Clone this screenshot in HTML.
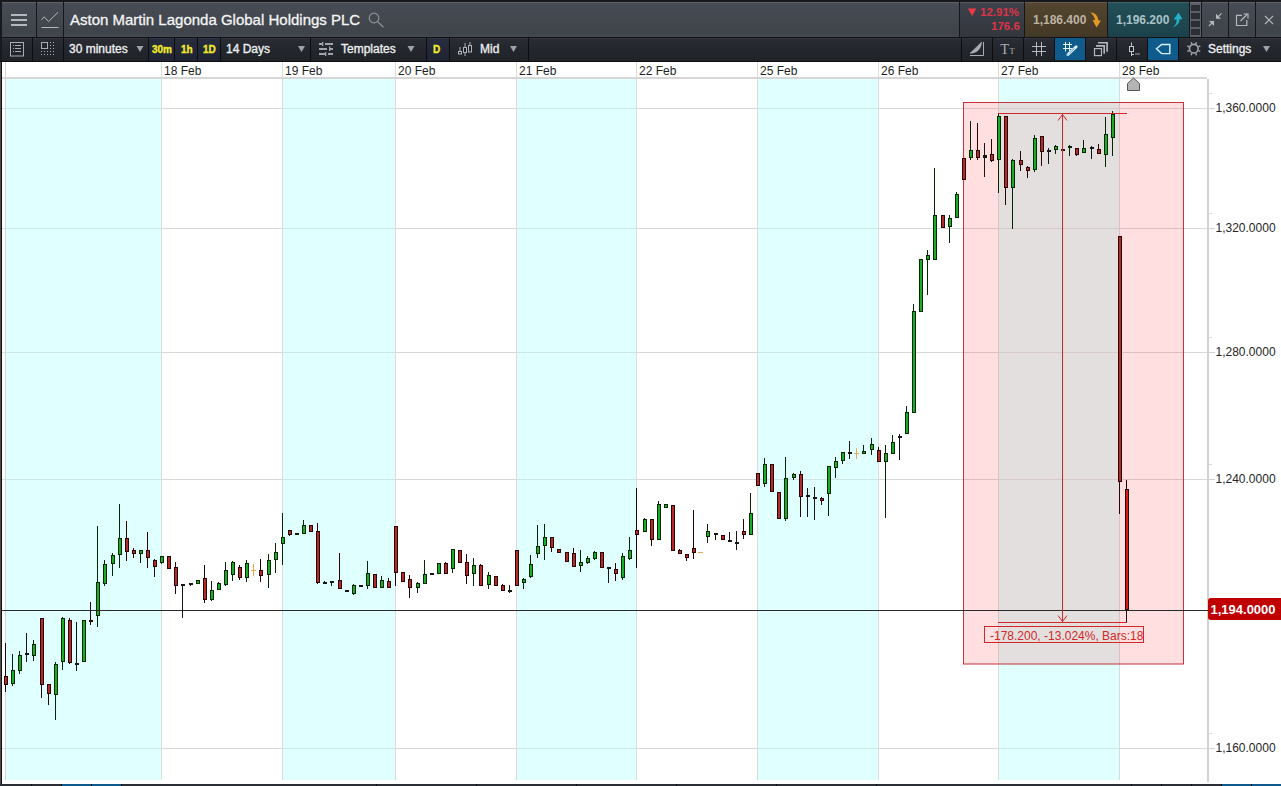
<!DOCTYPE html>
<html><head><meta charset="utf-8"><style>
*{margin:0;padding:0;box-sizing:border-box}
html,body{width:1281px;height:786px;overflow:hidden;background:#fff;font-family:"Liberation Sans",sans-serif}
.abs{position:absolute}
#top{position:absolute;left:0;top:0;width:1281px;height:62px;background:#17191c}
.r1{position:absolute;top:2px;height:35px;background:linear-gradient(#484c54,#3f434a 88%,#444850)}
.r2{position:absolute;top:37px;height:25px;background:linear-gradient(#2b2e35,#24272d 40%,#1f2227)}
.sep{position:absolute;width:1px;background:#141619}
.t{position:absolute;color:#eef0f2;white-space:nowrap;font-size:12px;line-height:14px}
.y{position:absolute;color:#f0e81e;white-space:nowrap;font-size:10px;font-weight:bold;line-height:12px}
svg text{font-family:"Liberation Sans",sans-serif}
.dl{font-size:12px;fill:#1e1e1e}
.pl{font-size:12px;fill:#262626}
.ml{font-size:12px;fill:#d02828}
.cp{font-size:13px;font-weight:bold;fill:#fff}
#bot{position:absolute;left:0;top:784px;width:1281px;height:2px;background:#2b2e34}
</style></head><body>
<svg class="abs" style="left:0;top:0" width="1281" height="786" viewBox="0 0 1281 786">
<rect x="0" y="62" width="1" height="724" fill="#4e4c4c"/><rect x="1" y="62" width="1" height="724" fill="#101010"/>
<rect x="6" y="79" width="155" height="701" fill="#e0ffff"/>
<rect x="282" y="79" width="113" height="701" fill="#e0ffff"/>
<rect x="516" y="79" width="120" height="701" fill="#e0ffff"/>
<rect x="757" y="79" width="121" height="701" fill="#e0ffff"/>
<rect x="998" y="79" width="121" height="701" fill="#e0ffff"/>
<rect x="2" y="108" width="159" height="1" fill="#cfe6e6"/>
<rect x="161" y="108" width="121" height="1" fill="#d8d8d8"/>
<rect x="282" y="108" width="113" height="1" fill="#cfe6e6"/>
<rect x="395" y="108" width="121" height="1" fill="#d8d8d8"/>
<rect x="516" y="108" width="120" height="1" fill="#cfe6e6"/>
<rect x="636" y="108" width="121" height="1" fill="#d8d8d8"/>
<rect x="757" y="108" width="121" height="1" fill="#cfe6e6"/>
<rect x="878" y="108" width="120" height="1" fill="#d8d8d8"/>
<rect x="998" y="108" width="121" height="1" fill="#cfe6e6"/>
<rect x="1119" y="108" width="88" height="1" fill="#d8d8d8"/>
<rect x="1207" y="108" width="8" height="1" fill="#d0d0d0"/>
<rect x="2" y="228" width="159" height="1" fill="#cfe6e6"/>
<rect x="161" y="228" width="121" height="1" fill="#d8d8d8"/>
<rect x="282" y="228" width="113" height="1" fill="#cfe6e6"/>
<rect x="395" y="228" width="121" height="1" fill="#d8d8d8"/>
<rect x="516" y="228" width="120" height="1" fill="#cfe6e6"/>
<rect x="636" y="228" width="121" height="1" fill="#d8d8d8"/>
<rect x="757" y="228" width="121" height="1" fill="#cfe6e6"/>
<rect x="878" y="228" width="120" height="1" fill="#d8d8d8"/>
<rect x="998" y="228" width="121" height="1" fill="#cfe6e6"/>
<rect x="1119" y="228" width="88" height="1" fill="#d8d8d8"/>
<rect x="1207" y="228" width="8" height="1" fill="#d0d0d0"/>
<rect x="2" y="352" width="159" height="1" fill="#cfe6e6"/>
<rect x="161" y="352" width="121" height="1" fill="#d8d8d8"/>
<rect x="282" y="352" width="113" height="1" fill="#cfe6e6"/>
<rect x="395" y="352" width="121" height="1" fill="#d8d8d8"/>
<rect x="516" y="352" width="120" height="1" fill="#cfe6e6"/>
<rect x="636" y="352" width="121" height="1" fill="#d8d8d8"/>
<rect x="757" y="352" width="121" height="1" fill="#cfe6e6"/>
<rect x="878" y="352" width="120" height="1" fill="#d8d8d8"/>
<rect x="998" y="352" width="121" height="1" fill="#cfe6e6"/>
<rect x="1119" y="352" width="88" height="1" fill="#d8d8d8"/>
<rect x="1207" y="352" width="8" height="1" fill="#d0d0d0"/>
<rect x="2" y="479" width="159" height="1" fill="#cfe6e6"/>
<rect x="161" y="479" width="121" height="1" fill="#d8d8d8"/>
<rect x="282" y="479" width="113" height="1" fill="#cfe6e6"/>
<rect x="395" y="479" width="121" height="1" fill="#d8d8d8"/>
<rect x="516" y="479" width="120" height="1" fill="#cfe6e6"/>
<rect x="636" y="479" width="121" height="1" fill="#d8d8d8"/>
<rect x="757" y="479" width="121" height="1" fill="#cfe6e6"/>
<rect x="878" y="479" width="120" height="1" fill="#d8d8d8"/>
<rect x="998" y="479" width="121" height="1" fill="#cfe6e6"/>
<rect x="1119" y="479" width="88" height="1" fill="#d8d8d8"/>
<rect x="1207" y="479" width="8" height="1" fill="#d0d0d0"/>
<rect x="2" y="748" width="159" height="1" fill="#cfe6e6"/>
<rect x="161" y="748" width="121" height="1" fill="#d8d8d8"/>
<rect x="282" y="748" width="113" height="1" fill="#cfe6e6"/>
<rect x="395" y="748" width="121" height="1" fill="#d8d8d8"/>
<rect x="516" y="748" width="120" height="1" fill="#cfe6e6"/>
<rect x="636" y="748" width="121" height="1" fill="#d8d8d8"/>
<rect x="757" y="748" width="121" height="1" fill="#cfe6e6"/>
<rect x="878" y="748" width="120" height="1" fill="#d8d8d8"/>
<rect x="998" y="748" width="121" height="1" fill="#cfe6e6"/>
<rect x="1119" y="748" width="88" height="1" fill="#d8d8d8"/>
<rect x="1207" y="748" width="8" height="1" fill="#d0d0d0"/>
<rect x="161" y="62" width="1" height="718" fill="#d6dedd"/>
<rect x="282" y="62" width="1" height="718" fill="#d6dedd"/>
<rect x="395" y="62" width="1" height="718" fill="#d6dedd"/>
<rect x="516" y="62" width="1" height="718" fill="#d6dedd"/>
<rect x="636" y="62" width="1" height="718" fill="#d6dedd"/>
<rect x="757" y="62" width="1" height="718" fill="#d6dedd"/>
<rect x="878" y="62" width="1" height="718" fill="#d6dedd"/>
<rect x="998" y="62" width="1" height="718" fill="#d6dedd"/>
<rect x="1119" y="62" width="1" height="718" fill="#d6dedd"/>
<rect x="5" y="62" width="1" height="718" fill="#d0d8d8"/>
<rect x="2" y="77" width="1205" height="2" fill="#d6d6d6"/>
<rect x="1207" y="79" width="2" height="703" fill="#d2d2d2"/>
<rect x="1209" y="93" width="3" height="1" fill="#d8d8d8"/>
<rect x="1209" y="213" width="3" height="1" fill="#d8d8d8"/>
<rect x="1209" y="337" width="3" height="1" fill="#d8d8d8"/>
<rect x="1209" y="464" width="3" height="1" fill="#d8d8d8"/>
<rect x="1209" y="733" width="3" height="1" fill="#d8d8d8"/>
<text x="164" y="75" class="dl">18 Feb</text>
<text x="285" y="75" class="dl">19 Feb</text>
<text x="398" y="75" class="dl">20 Feb</text>
<text x="519" y="75" class="dl">21 Feb</text>
<text x="639" y="75" class="dl">22 Feb</text>
<text x="760" y="75" class="dl">25 Feb</text>
<text x="881" y="75" class="dl">26 Feb</text>
<text x="1001" y="75" class="dl">27 Feb</text>
<text x="1122" y="75" class="dl">28 Feb</text>
<text x="1215.5" y="112.2" class="pl">1,360.0000</text>
<text x="1215.5" y="232.2" class="pl">1,320.0000</text>
<text x="1215.5" y="356.2" class="pl">1,280.0000</text>
<text x="1215.5" y="483.2" class="pl">1,240.0000</text>
<text x="1215.5" y="752.2" class="pl">1,160.0000</text>
<path d="M1127.5 90.5 V83.5 L1133.5 78 L1139.5 83.5 V90.5 Z" fill="#b4b4b4" stroke="#555" stroke-width="1"/>
<rect x="963.5" y="102.5" width="220" height="561.5" fill="rgba(255,0,0,0.125)" stroke="#c8323a" stroke-width="1"/>
<rect x="5" y="643" width="1" height="49" fill="#2a0404"/>
<rect x="4" y="676" width="4" height="9" fill="#2a0404"/>
<rect x="5" y="677" width="2" height="7" fill="#b22a2a"/>
<rect x="12" y="654" width="1" height="32" fill="#032803"/>
<rect x="11" y="670" width="4" height="14" fill="#032803"/>
<rect x="12" y="671" width="2" height="12" fill="#1aac24"/>
<rect x="19" y="651" width="1" height="23" fill="#032803"/>
<rect x="18" y="655" width="4" height="16" fill="#032803"/>
<rect x="19" y="656" width="2" height="14" fill="#1aac24"/>
<rect x="26" y="633" width="1" height="29" fill="#161616"/>
<rect x="25" y="653" width="4" height="2" fill="#161616"/>
<rect x="33" y="640" width="1" height="21" fill="#032803"/>
<rect x="32" y="644" width="4" height="12" fill="#032803"/>
<rect x="33" y="645" width="2" height="10" fill="#1aac24"/>
<rect x="41" y="618" width="1" height="80" fill="#2a0404"/>
<rect x="40" y="618" width="4" height="67" fill="#2a0404"/>
<rect x="41" y="619" width="2" height="65" fill="#b22a2a"/>
<rect x="48" y="684" width="1" height="21" fill="#2a0404"/>
<rect x="47" y="684" width="4" height="10" fill="#2a0404"/>
<rect x="48" y="685" width="2" height="8" fill="#b22a2a"/>
<rect x="55" y="662" width="1" height="58" fill="#032803"/>
<rect x="54" y="664" width="4" height="31" fill="#032803"/>
<rect x="55" y="665" width="2" height="29" fill="#1aac24"/>
<rect x="62" y="617" width="1" height="53" fill="#032803"/>
<rect x="61" y="618" width="4" height="44" fill="#032803"/>
<rect x="62" y="619" width="2" height="42" fill="#1aac24"/>
<rect x="69" y="618" width="1" height="46" fill="#2a0404"/>
<rect x="68" y="620" width="4" height="43" fill="#2a0404"/>
<rect x="69" y="621" width="2" height="41" fill="#b22a2a"/>
<rect x="76" y="622" width="1" height="49" fill="#161616"/>
<rect x="75" y="663" width="4" height="2" fill="#161616"/>
<rect x="83" y="620" width="1" height="42" fill="#032803"/>
<rect x="82" y="620" width="4" height="42" fill="#032803"/>
<rect x="83" y="621" width="2" height="40" fill="#1aac24"/>
<rect x="90" y="602" width="1" height="23" fill="#2a0404"/>
<rect x="89" y="620" width="4" height="2" fill="#2a0404"/>
<rect x="97" y="526" width="1" height="101" fill="#032803"/>
<rect x="96" y="582" width="4" height="34" fill="#032803"/>
<rect x="97" y="583" width="2" height="32" fill="#1aac24"/>
<rect x="104" y="560" width="1" height="26" fill="#032803"/>
<rect x="103" y="564" width="4" height="20" fill="#032803"/>
<rect x="104" y="565" width="2" height="18" fill="#1aac24"/>
<rect x="112" y="553" width="1" height="23" fill="#032803"/>
<rect x="111" y="555" width="4" height="9" fill="#032803"/>
<rect x="112" y="556" width="2" height="7" fill="#1aac24"/>
<rect x="119" y="504" width="1" height="64" fill="#032803"/>
<rect x="118" y="538" width="4" height="17" fill="#032803"/>
<rect x="119" y="539" width="2" height="15" fill="#1aac24"/>
<rect x="126" y="521" width="1" height="40" fill="#2a0404"/>
<rect x="125" y="538" width="4" height="14" fill="#2a0404"/>
<rect x="126" y="539" width="2" height="12" fill="#b22a2a"/>
<rect x="133" y="548" width="1" height="10" fill="#2a0404"/>
<rect x="132" y="550" width="4" height="4" fill="#2a0404"/>
<rect x="133" y="551" width="2" height="2" fill="#b22a2a"/>
<rect x="140" y="550" width="1" height="13" fill="#032803"/>
<rect x="139" y="550" width="4" height="4" fill="#032803"/>
<rect x="140" y="551" width="2" height="2" fill="#1aac24"/>
<rect x="147" y="532" width="1" height="36" fill="#2a0404"/>
<rect x="146" y="550" width="4" height="8" fill="#2a0404"/>
<rect x="147" y="551" width="2" height="6" fill="#b22a2a"/>
<rect x="154" y="559" width="1" height="18" fill="#2a0404"/>
<rect x="153" y="560" width="4" height="7" fill="#2a0404"/>
<rect x="154" y="561" width="2" height="5" fill="#b22a2a"/>
<rect x="161" y="556" width="1" height="8" fill="#032803"/>
<rect x="160" y="556" width="4" height="7" fill="#032803"/>
<rect x="161" y="557" width="2" height="5" fill="#1aac24"/>
<rect x="168" y="556" width="1" height="13" fill="#2a0404"/>
<rect x="167" y="556" width="4" height="13" fill="#2a0404"/>
<rect x="168" y="557" width="2" height="11" fill="#b22a2a"/>
<rect x="175" y="562" width="1" height="32" fill="#2a0404"/>
<rect x="174" y="567" width="4" height="19" fill="#2a0404"/>
<rect x="175" y="568" width="2" height="17" fill="#b22a2a"/>
<rect x="182" y="584" width="1" height="34" fill="#161616"/>
<rect x="181" y="584" width="4" height="2" fill="#161616"/>
<rect x="190" y="583" width="1" height="3" fill="#161616"/>
<rect x="189" y="583" width="4" height="2" fill="#161616"/>
<rect x="197" y="580" width="1" height="4" fill="#032803"/>
<rect x="196" y="580" width="4" height="4" fill="#032803"/>
<rect x="197" y="581" width="2" height="2" fill="#1aac24"/>
<rect x="204" y="565" width="1" height="38" fill="#2a0404"/>
<rect x="203" y="578" width="4" height="22" fill="#2a0404"/>
<rect x="204" y="579" width="2" height="20" fill="#b22a2a"/>
<rect x="211" y="581" width="1" height="20" fill="#032803"/>
<rect x="210" y="590" width="4" height="10" fill="#032803"/>
<rect x="211" y="591" width="2" height="8" fill="#1aac24"/>
<rect x="218" y="582" width="1" height="8" fill="#032803"/>
<rect x="217" y="583" width="4" height="7" fill="#032803"/>
<rect x="218" y="584" width="2" height="5" fill="#1aac24"/>
<rect x="225" y="562" width="1" height="24" fill="#032803"/>
<rect x="224" y="570" width="4" height="15" fill="#032803"/>
<rect x="225" y="571" width="2" height="13" fill="#1aac24"/>
<rect x="232" y="561" width="1" height="20" fill="#032803"/>
<rect x="231" y="562" width="4" height="13" fill="#032803"/>
<rect x="232" y="563" width="2" height="11" fill="#1aac24"/>
<rect x="239" y="565" width="1" height="15" fill="#2a0404"/>
<rect x="238" y="567" width="4" height="11" fill="#2a0404"/>
<rect x="239" y="568" width="2" height="9" fill="#b22a2a"/>
<rect x="246" y="560" width="1" height="22" fill="#032803"/>
<rect x="245" y="563" width="4" height="15" fill="#032803"/>
<rect x="246" y="564" width="2" height="13" fill="#1aac24"/>
<rect x="253" y="564" width="1" height="12" fill="#e8a850"/>
<rect x="251" y="570" width="5" height="1" fill="#e8a850"/>
<rect x="260" y="559" width="1" height="23" fill="#2a0404"/>
<rect x="259" y="570" width="4" height="6" fill="#2a0404"/>
<rect x="260" y="571" width="2" height="4" fill="#b22a2a"/>
<rect x="268" y="554" width="1" height="34" fill="#032803"/>
<rect x="267" y="560" width="4" height="15" fill="#032803"/>
<rect x="268" y="561" width="2" height="13" fill="#1aac24"/>
<rect x="275" y="543" width="1" height="30" fill="#032803"/>
<rect x="274" y="552" width="4" height="8" fill="#032803"/>
<rect x="275" y="553" width="2" height="6" fill="#1aac24"/>
<rect x="282" y="513" width="1" height="52" fill="#032803"/>
<rect x="281" y="537" width="4" height="7" fill="#032803"/>
<rect x="282" y="538" width="2" height="5" fill="#1aac24"/>
<rect x="289" y="530" width="1" height="6" fill="#2a0404"/>
<rect x="288" y="530" width="4" height="5" fill="#2a0404"/>
<rect x="289" y="531" width="2" height="3" fill="#b22a2a"/>
<rect x="296" y="533" width="1" height="1" fill="#161616"/>
<rect x="295" y="533" width="4" height="2" fill="#161616"/>
<rect x="303" y="520" width="1" height="14" fill="#032803"/>
<rect x="302" y="525" width="4" height="9" fill="#032803"/>
<rect x="303" y="526" width="2" height="7" fill="#1aac24"/>
<rect x="310" y="525" width="1" height="7" fill="#2a0404"/>
<rect x="309" y="525" width="4" height="7" fill="#2a0404"/>
<rect x="310" y="526" width="2" height="5" fill="#b22a2a"/>
<rect x="317" y="523" width="1" height="61" fill="#2a0404"/>
<rect x="316" y="531" width="4" height="52" fill="#2a0404"/>
<rect x="317" y="532" width="2" height="50" fill="#b22a2a"/>
<rect x="324" y="581" width="1" height="2" fill="#161616"/>
<rect x="323" y="582" width="4" height="2" fill="#161616"/>
<rect x="331" y="581" width="1" height="5" fill="#161616"/>
<rect x="330" y="581" width="4" height="2" fill="#161616"/>
<rect x="339" y="553" width="1" height="36" fill="#2a0404"/>
<rect x="338" y="580" width="4" height="9" fill="#2a0404"/>
<rect x="339" y="581" width="2" height="7" fill="#b22a2a"/>
<rect x="346" y="590" width="1" height="1" fill="#161616"/>
<rect x="345" y="590" width="4" height="2" fill="#161616"/>
<rect x="353" y="584" width="1" height="11" fill="#032803"/>
<rect x="352" y="585" width="4" height="9" fill="#032803"/>
<rect x="353" y="586" width="2" height="7" fill="#1aac24"/>
<rect x="360" y="585" width="1" height="2" fill="#161616"/>
<rect x="359" y="585" width="4" height="2" fill="#161616"/>
<rect x="367" y="561" width="1" height="28" fill="#032803"/>
<rect x="366" y="573" width="4" height="13" fill="#032803"/>
<rect x="367" y="574" width="2" height="11" fill="#1aac24"/>
<rect x="374" y="574" width="1" height="14" fill="#2a0404"/>
<rect x="373" y="574" width="4" height="14" fill="#2a0404"/>
<rect x="374" y="575" width="2" height="12" fill="#b22a2a"/>
<rect x="381" y="576" width="1" height="12" fill="#032803"/>
<rect x="380" y="580" width="4" height="8" fill="#032803"/>
<rect x="381" y="581" width="2" height="6" fill="#1aac24"/>
<rect x="388" y="578" width="1" height="10" fill="#2a0404"/>
<rect x="387" y="581" width="4" height="7" fill="#2a0404"/>
<rect x="388" y="582" width="2" height="5" fill="#b22a2a"/>
<rect x="395" y="526" width="1" height="60" fill="#2a0404"/>
<rect x="394" y="526" width="4" height="47" fill="#2a0404"/>
<rect x="395" y="527" width="2" height="45" fill="#b22a2a"/>
<rect x="402" y="572" width="1" height="10" fill="#2a0404"/>
<rect x="401" y="572" width="4" height="10" fill="#2a0404"/>
<rect x="402" y="573" width="2" height="8" fill="#b22a2a"/>
<rect x="409" y="575" width="1" height="23" fill="#2a0404"/>
<rect x="408" y="579" width="4" height="9" fill="#2a0404"/>
<rect x="409" y="580" width="2" height="7" fill="#b22a2a"/>
<rect x="417" y="582" width="1" height="11" fill="#032803"/>
<rect x="416" y="583" width="4" height="5" fill="#032803"/>
<rect x="417" y="584" width="2" height="3" fill="#1aac24"/>
<rect x="424" y="560" width="1" height="24" fill="#032803"/>
<rect x="423" y="574" width="4" height="10" fill="#032803"/>
<rect x="424" y="575" width="2" height="8" fill="#1aac24"/>
<rect x="431" y="573" width="1" height="2" fill="#161616"/>
<rect x="430" y="573" width="4" height="2" fill="#161616"/>
<rect x="438" y="563" width="1" height="11" fill="#032803"/>
<rect x="437" y="563" width="4" height="11" fill="#032803"/>
<rect x="438" y="564" width="2" height="9" fill="#1aac24"/>
<rect x="445" y="562" width="1" height="12" fill="#2a0404"/>
<rect x="444" y="563" width="4" height="11" fill="#2a0404"/>
<rect x="445" y="564" width="2" height="9" fill="#b22a2a"/>
<rect x="452" y="549" width="1" height="24" fill="#032803"/>
<rect x="451" y="549" width="4" height="20" fill="#032803"/>
<rect x="452" y="550" width="2" height="18" fill="#1aac24"/>
<rect x="459" y="550" width="1" height="13" fill="#2a0404"/>
<rect x="458" y="550" width="4" height="13" fill="#2a0404"/>
<rect x="459" y="551" width="2" height="11" fill="#b22a2a"/>
<rect x="466" y="554" width="1" height="30" fill="#2a0404"/>
<rect x="465" y="562" width="4" height="14" fill="#2a0404"/>
<rect x="466" y="563" width="2" height="12" fill="#b22a2a"/>
<rect x="473" y="558" width="1" height="28" fill="#032803"/>
<rect x="472" y="565" width="4" height="9" fill="#032803"/>
<rect x="473" y="566" width="2" height="7" fill="#1aac24"/>
<rect x="480" y="564" width="1" height="22" fill="#2a0404"/>
<rect x="479" y="565" width="4" height="21" fill="#2a0404"/>
<rect x="480" y="566" width="2" height="19" fill="#b22a2a"/>
<rect x="488" y="572" width="1" height="17" fill="#032803"/>
<rect x="487" y="575" width="4" height="10" fill="#032803"/>
<rect x="488" y="576" width="2" height="8" fill="#1aac24"/>
<rect x="495" y="576" width="1" height="10" fill="#2a0404"/>
<rect x="494" y="576" width="4" height="10" fill="#2a0404"/>
<rect x="495" y="577" width="2" height="8" fill="#b22a2a"/>
<rect x="502" y="584" width="1" height="7" fill="#2a0404"/>
<rect x="501" y="585" width="4" height="6" fill="#2a0404"/>
<rect x="502" y="586" width="2" height="4" fill="#b22a2a"/>
<rect x="509" y="585" width="1" height="8" fill="#161616"/>
<rect x="508" y="590" width="4" height="2" fill="#161616"/>
<rect x="516" y="550" width="1" height="36" fill="#2a0404"/>
<rect x="515" y="550" width="4" height="36" fill="#2a0404"/>
<rect x="516" y="551" width="2" height="34" fill="#b22a2a"/>
<rect x="523" y="578" width="1" height="11" fill="#032803"/>
<rect x="522" y="579" width="4" height="4" fill="#032803"/>
<rect x="523" y="580" width="2" height="2" fill="#1aac24"/>
<rect x="530" y="555" width="1" height="23" fill="#032803"/>
<rect x="529" y="564" width="4" height="13" fill="#032803"/>
<rect x="530" y="565" width="2" height="11" fill="#1aac24"/>
<rect x="537" y="525" width="1" height="33" fill="#032803"/>
<rect x="536" y="546" width="4" height="8" fill="#032803"/>
<rect x="537" y="547" width="2" height="6" fill="#1aac24"/>
<rect x="544" y="524" width="1" height="36" fill="#032803"/>
<rect x="543" y="537" width="4" height="9" fill="#032803"/>
<rect x="544" y="538" width="2" height="7" fill="#1aac24"/>
<rect x="551" y="537" width="1" height="15" fill="#2a0404"/>
<rect x="550" y="537" width="4" height="11" fill="#2a0404"/>
<rect x="551" y="538" width="2" height="9" fill="#b22a2a"/>
<rect x="558" y="549" width="1" height="4" fill="#2a0404"/>
<rect x="557" y="549" width="4" height="4" fill="#2a0404"/>
<rect x="558" y="550" width="2" height="2" fill="#b22a2a"/>
<rect x="566" y="552" width="1" height="10" fill="#2a0404"/>
<rect x="565" y="552" width="4" height="10" fill="#2a0404"/>
<rect x="566" y="553" width="2" height="8" fill="#b22a2a"/>
<rect x="573" y="548" width="1" height="19" fill="#2a0404"/>
<rect x="572" y="553" width="4" height="14" fill="#2a0404"/>
<rect x="573" y="554" width="2" height="12" fill="#b22a2a"/>
<rect x="580" y="550" width="1" height="22" fill="#032803"/>
<rect x="579" y="562" width="4" height="4" fill="#032803"/>
<rect x="580" y="563" width="2" height="2" fill="#1aac24"/>
<rect x="587" y="556" width="1" height="8" fill="#032803"/>
<rect x="586" y="558" width="4" height="5" fill="#032803"/>
<rect x="587" y="559" width="2" height="3" fill="#1aac24"/>
<rect x="594" y="551" width="1" height="9" fill="#032803"/>
<rect x="593" y="552" width="4" height="7" fill="#032803"/>
<rect x="594" y="553" width="2" height="5" fill="#1aac24"/>
<rect x="601" y="552" width="1" height="16" fill="#2a0404"/>
<rect x="600" y="552" width="4" height="16" fill="#2a0404"/>
<rect x="601" y="553" width="2" height="14" fill="#b22a2a"/>
<rect x="608" y="567" width="1" height="16" fill="#161616"/>
<rect x="607" y="567" width="4" height="2" fill="#161616"/>
<rect x="615" y="563" width="1" height="18" fill="#2a0404"/>
<rect x="614" y="569" width="4" height="5" fill="#2a0404"/>
<rect x="615" y="570" width="2" height="3" fill="#b22a2a"/>
<rect x="622" y="553" width="1" height="27" fill="#032803"/>
<rect x="621" y="556" width="4" height="22" fill="#032803"/>
<rect x="622" y="557" width="2" height="20" fill="#1aac24"/>
<rect x="629" y="537" width="1" height="23" fill="#032803"/>
<rect x="628" y="550" width="4" height="9" fill="#032803"/>
<rect x="629" y="551" width="2" height="7" fill="#1aac24"/>
<rect x="636" y="488" width="1" height="80" fill="#2a0404"/>
<rect x="635" y="530" width="4" height="5" fill="#2a0404"/>
<rect x="636" y="531" width="2" height="3" fill="#b22a2a"/>
<rect x="644" y="518" width="1" height="14" fill="#032803"/>
<rect x="643" y="519" width="4" height="13" fill="#032803"/>
<rect x="644" y="520" width="2" height="11" fill="#1aac24"/>
<rect x="651" y="519" width="1" height="27" fill="#2a0404"/>
<rect x="650" y="519" width="4" height="21" fill="#2a0404"/>
<rect x="651" y="520" width="2" height="19" fill="#b22a2a"/>
<rect x="658" y="501" width="1" height="39" fill="#032803"/>
<rect x="657" y="504" width="4" height="36" fill="#032803"/>
<rect x="658" y="505" width="2" height="34" fill="#1aac24"/>
<rect x="665" y="504" width="1" height="4" fill="#032803"/>
<rect x="664" y="504" width="4" height="4" fill="#032803"/>
<rect x="665" y="505" width="2" height="2" fill="#1aac24"/>
<rect x="672" y="505" width="1" height="46" fill="#2a0404"/>
<rect x="671" y="505" width="4" height="46" fill="#2a0404"/>
<rect x="672" y="506" width="2" height="44" fill="#b22a2a"/>
<rect x="679" y="549" width="1" height="5" fill="#2a0404"/>
<rect x="678" y="550" width="4" height="4" fill="#2a0404"/>
<rect x="679" y="551" width="2" height="2" fill="#b22a2a"/>
<rect x="686" y="554" width="1" height="7" fill="#2a0404"/>
<rect x="685" y="554" width="4" height="4" fill="#2a0404"/>
<rect x="686" y="555" width="2" height="2" fill="#b22a2a"/>
<rect x="693" y="510" width="1" height="49" fill="#2a0404"/>
<rect x="692" y="548" width="4" height="5" fill="#2a0404"/>
<rect x="693" y="549" width="2" height="3" fill="#b22a2a"/>
<rect x="700" y="552" width="1" height="1" fill="#e8a850"/>
<rect x="698" y="552" width="5" height="1" fill="#e8a850"/>
<rect x="707" y="524" width="1" height="19" fill="#032803"/>
<rect x="706" y="531" width="4" height="6" fill="#032803"/>
<rect x="707" y="532" width="2" height="4" fill="#1aac24"/>
<rect x="715" y="533" width="1" height="7" fill="#161616"/>
<rect x="714" y="533" width="4" height="2" fill="#161616"/>
<rect x="722" y="535" width="1" height="5" fill="#2a0404"/>
<rect x="721" y="535" width="4" height="5" fill="#2a0404"/>
<rect x="722" y="536" width="2" height="3" fill="#b22a2a"/>
<rect x="729" y="532" width="1" height="10" fill="#161616"/>
<rect x="728" y="540" width="4" height="2" fill="#161616"/>
<rect x="736" y="531" width="1" height="19" fill="#161616"/>
<rect x="735" y="542" width="4" height="2" fill="#161616"/>
<rect x="743" y="519" width="1" height="20" fill="#2a0404"/>
<rect x="742" y="531" width="4" height="4" fill="#2a0404"/>
<rect x="743" y="532" width="2" height="2" fill="#b22a2a"/>
<rect x="750" y="493" width="1" height="42" fill="#032803"/>
<rect x="749" y="513" width="4" height="22" fill="#032803"/>
<rect x="750" y="514" width="2" height="20" fill="#1aac24"/>
<rect x="757" y="473" width="1" height="13" fill="#2a0404"/>
<rect x="756" y="473" width="4" height="13" fill="#2a0404"/>
<rect x="757" y="474" width="2" height="11" fill="#b22a2a"/>
<rect x="764" y="458" width="1" height="29" fill="#032803"/>
<rect x="763" y="464" width="4" height="20" fill="#032803"/>
<rect x="764" y="465" width="2" height="18" fill="#1aac24"/>
<rect x="771" y="464" width="1" height="28" fill="#2a0404"/>
<rect x="770" y="464" width="4" height="28" fill="#2a0404"/>
<rect x="771" y="465" width="2" height="26" fill="#b22a2a"/>
<rect x="778" y="492" width="1" height="27" fill="#2a0404"/>
<rect x="777" y="492" width="4" height="27" fill="#2a0404"/>
<rect x="778" y="493" width="2" height="25" fill="#b22a2a"/>
<rect x="785" y="457" width="1" height="64" fill="#032803"/>
<rect x="784" y="478" width="4" height="41" fill="#032803"/>
<rect x="785" y="479" width="2" height="39" fill="#1aac24"/>
<rect x="793" y="473" width="1" height="7" fill="#032803"/>
<rect x="792" y="474" width="4" height="4" fill="#032803"/>
<rect x="793" y="475" width="2" height="2" fill="#1aac24"/>
<rect x="800" y="471" width="1" height="46" fill="#2a0404"/>
<rect x="799" y="474" width="4" height="23" fill="#2a0404"/>
<rect x="800" y="475" width="2" height="21" fill="#b22a2a"/>
<rect x="807" y="488" width="1" height="29" fill="#161616"/>
<rect x="806" y="495" width="4" height="2" fill="#161616"/>
<rect x="814" y="487" width="1" height="33" fill="#161616"/>
<rect x="813" y="497" width="4" height="2" fill="#161616"/>
<rect x="821" y="497" width="1" height="8" fill="#2a0404"/>
<rect x="820" y="498" width="4" height="3" fill="#2a0404"/>
<rect x="821" y="499" width="2" height="1" fill="#b22a2a"/>
<rect x="828" y="466" width="1" height="50" fill="#032803"/>
<rect x="827" y="466" width="4" height="28" fill="#032803"/>
<rect x="828" y="467" width="2" height="26" fill="#1aac24"/>
<rect x="835" y="457" width="1" height="21" fill="#032803"/>
<rect x="834" y="461" width="4" height="7" fill="#032803"/>
<rect x="835" y="462" width="2" height="5" fill="#1aac24"/>
<rect x="842" y="452" width="1" height="12" fill="#032803"/>
<rect x="841" y="452" width="4" height="9" fill="#032803"/>
<rect x="842" y="453" width="2" height="7" fill="#1aac24"/>
<rect x="849" y="441" width="1" height="18" fill="#161616"/>
<rect x="848" y="452" width="4" height="2" fill="#161616"/>
<rect x="856" y="448" width="1" height="11" fill="#e8a850"/>
<rect x="854" y="453" width="5" height="1" fill="#e8a850"/>
<rect x="863" y="445" width="1" height="8" fill="#032803"/>
<rect x="862" y="451" width="4" height="3" fill="#032803"/>
<rect x="863" y="452" width="2" height="1" fill="#1aac24"/>
<rect x="871" y="438" width="1" height="17" fill="#032803"/>
<rect x="870" y="444" width="4" height="6" fill="#032803"/>
<rect x="871" y="445" width="2" height="4" fill="#1aac24"/>
<rect x="878" y="447" width="1" height="15" fill="#2a0404"/>
<rect x="877" y="450" width="4" height="12" fill="#2a0404"/>
<rect x="878" y="451" width="2" height="10" fill="#b22a2a"/>
<rect x="885" y="445" width="1" height="73" fill="#032803"/>
<rect x="884" y="453" width="4" height="9" fill="#032803"/>
<rect x="885" y="454" width="2" height="7" fill="#1aac24"/>
<rect x="892" y="435" width="1" height="19" fill="#032803"/>
<rect x="891" y="442" width="4" height="12" fill="#032803"/>
<rect x="892" y="443" width="2" height="10" fill="#1aac24"/>
<rect x="899" y="434" width="1" height="26" fill="#161616"/>
<rect x="898" y="436" width="4" height="2" fill="#161616"/>
<rect x="906" y="406" width="1" height="28" fill="#032803"/>
<rect x="905" y="412" width="4" height="22" fill="#032803"/>
<rect x="906" y="413" width="2" height="20" fill="#1aac24"/>
<rect x="913" y="304" width="1" height="109" fill="#032803"/>
<rect x="912" y="311" width="4" height="102" fill="#032803"/>
<rect x="913" y="312" width="2" height="100" fill="#1aac24"/>
<rect x="920" y="259" width="1" height="53" fill="#032803"/>
<rect x="919" y="259" width="4" height="53" fill="#032803"/>
<rect x="920" y="260" width="2" height="51" fill="#1aac24"/>
<rect x="927" y="250" width="1" height="45" fill="#032803"/>
<rect x="926" y="255" width="4" height="5" fill="#032803"/>
<rect x="927" y="256" width="2" height="3" fill="#1aac24"/>
<rect x="934" y="168" width="1" height="92" fill="#032803"/>
<rect x="933" y="215" width="4" height="45" fill="#032803"/>
<rect x="934" y="216" width="2" height="43" fill="#1aac24"/>
<rect x="942" y="215" width="1" height="13" fill="#2a0404"/>
<rect x="941" y="215" width="4" height="13" fill="#2a0404"/>
<rect x="942" y="216" width="2" height="11" fill="#b22a2a"/>
<rect x="949" y="215" width="1" height="28" fill="#032803"/>
<rect x="948" y="218" width="4" height="9" fill="#032803"/>
<rect x="949" y="219" width="2" height="7" fill="#1aac24"/>
<rect x="956" y="192" width="1" height="26" fill="#032803"/>
<rect x="955" y="194" width="4" height="24" fill="#032803"/>
<rect x="956" y="195" width="2" height="22" fill="#1aac24"/>
<rect x="963" y="158" width="1" height="22" fill="#2a0404"/>
<rect x="962" y="158" width="4" height="22" fill="#2a0404"/>
<rect x="963" y="159" width="2" height="20" fill="#b22a2a"/>
<rect x="970" y="121" width="1" height="39" fill="#032803"/>
<rect x="969" y="150" width="4" height="8" fill="#032803"/>
<rect x="970" y="151" width="2" height="6" fill="#1aac24"/>
<rect x="977" y="123" width="1" height="37" fill="#2a0404"/>
<rect x="976" y="150" width="4" height="8" fill="#2a0404"/>
<rect x="977" y="151" width="2" height="6" fill="#b22a2a"/>
<rect x="984" y="143" width="1" height="34" fill="#161616"/>
<rect x="983" y="155" width="4" height="3" fill="#161616"/>
<rect x="991" y="139" width="1" height="23" fill="#2a0404"/>
<rect x="990" y="154" width="4" height="7" fill="#2a0404"/>
<rect x="991" y="155" width="2" height="5" fill="#b22a2a"/>
<rect x="998" y="114" width="1" height="79" fill="#032803"/>
<rect x="997" y="116" width="4" height="44" fill="#032803"/>
<rect x="998" y="117" width="2" height="42" fill="#1aac24"/>
<rect x="1005" y="116" width="1" height="89" fill="#2a0404"/>
<rect x="1004" y="116" width="4" height="72" fill="#2a0404"/>
<rect x="1005" y="117" width="2" height="70" fill="#b22a2a"/>
<rect x="1012" y="159" width="1" height="70" fill="#032803"/>
<rect x="1011" y="160" width="4" height="28" fill="#032803"/>
<rect x="1012" y="161" width="2" height="26" fill="#1aac24"/>
<rect x="1020" y="151" width="1" height="20" fill="#2a0404"/>
<rect x="1019" y="160" width="4" height="5" fill="#2a0404"/>
<rect x="1020" y="161" width="2" height="3" fill="#b22a2a"/>
<rect x="1027" y="166" width="1" height="12" fill="#2a0404"/>
<rect x="1026" y="167" width="4" height="4" fill="#2a0404"/>
<rect x="1027" y="168" width="2" height="2" fill="#b22a2a"/>
<rect x="1034" y="135" width="1" height="37" fill="#032803"/>
<rect x="1033" y="138" width="4" height="32" fill="#032803"/>
<rect x="1034" y="139" width="2" height="30" fill="#1aac24"/>
<rect x="1041" y="136" width="1" height="30" fill="#2a0404"/>
<rect x="1040" y="136" width="4" height="16" fill="#2a0404"/>
<rect x="1041" y="137" width="2" height="14" fill="#b22a2a"/>
<rect x="1048" y="148" width="1" height="16" fill="#161616"/>
<rect x="1047" y="150" width="4" height="2" fill="#161616"/>
<rect x="1055" y="145" width="1" height="9" fill="#032803"/>
<rect x="1054" y="146" width="4" height="4" fill="#032803"/>
<rect x="1055" y="147" width="2" height="2" fill="#1aac24"/>
<rect x="1062" y="149" width="1" height="1" fill="#161616"/>
<rect x="1061" y="149" width="4" height="2" fill="#161616"/>
<rect x="1069" y="145" width="1" height="11" fill="#032803"/>
<rect x="1068" y="146" width="4" height="2" fill="#032803"/>
<rect x="1076" y="148" width="1" height="8" fill="#2a0404"/>
<rect x="1075" y="148" width="4" height="7" fill="#2a0404"/>
<rect x="1076" y="149" width="2" height="5" fill="#b22a2a"/>
<rect x="1083" y="140" width="1" height="13" fill="#032803"/>
<rect x="1082" y="148" width="4" height="5" fill="#032803"/>
<rect x="1083" y="149" width="2" height="3" fill="#1aac24"/>
<rect x="1091" y="146" width="1" height="13" fill="#161616"/>
<rect x="1090" y="147" width="4" height="2" fill="#161616"/>
<rect x="1098" y="144" width="1" height="10" fill="#2a0404"/>
<rect x="1097" y="149" width="4" height="5" fill="#2a0404"/>
<rect x="1098" y="150" width="2" height="3" fill="#b22a2a"/>
<rect x="1105" y="117" width="1" height="50" fill="#032803"/>
<rect x="1104" y="134" width="4" height="21" fill="#032803"/>
<rect x="1105" y="135" width="2" height="19" fill="#1aac24"/>
<rect x="1112" y="111" width="1" height="45" fill="#032803"/>
<rect x="1111" y="114" width="4" height="24" fill="#032803"/>
<rect x="1112" y="115" width="2" height="22" fill="#1aac24"/>
<rect x="1119" y="236" width="1" height="278" fill="#2a0404"/>
<rect x="1118" y="236" width="4" height="246" fill="#2a0404"/>
<rect x="1119" y="237" width="2" height="244" fill="#b22a2a"/>
<rect x="1126" y="480" width="1" height="142" fill="#2a0404"/>
<rect x="1125" y="489" width="4" height="121" fill="#2a0404"/>
<rect x="1126" y="490" width="2" height="119" fill="#d41a1a"/>
<rect x="2" y="610" width="1206" height="1" fill="#2a2a2a"/>
<rect x="998" y="113" width="129" height="1" fill="#d02828"/>
<rect x="998" y="622" width="129" height="1" fill="#d02828"/>
<rect x="1126" y="610" width="1" height="12" fill="#161616"/>
<rect x="1062" y="114" width="1" height="508" fill="#d02828"/>
<path d="M1058 120.5 L1062.5 114.5 L1067 120.5" fill="none" stroke="#d02828" stroke-width="1"/>
<path d="M1058 615.5 L1062.5 621.5 L1067 615.5" fill="none" stroke="#d02828" stroke-width="1"/>
<rect x="984.5" y="626.5" width="159" height="16" fill="rgba(255,255,255,0.0)" stroke="#d02828" stroke-width="1"/>
<text x="990" y="639.5" class="ml">-178.200, -13.024%, Bars:18</text>
<path d="M1211 598 H1281 V620 H1211 Q1208 620 1208 617 V601 Q1208 598 1211 598 Z" fill="#c00000"/>
<text x="1210.5" y="614" class="cp">1,194.0000</text>
</svg>
<div id="top">
<div class="r1" style="left:2px;width:1279px"></div>
<div class="abs" style="left:959px;top:2px;width:65px;height:35px;background:linear-gradient(#3e424a,#33363d)"></div>
<div class="abs" style="left:1024px;top:2px;width:83px;height:35px;background:linear-gradient(#544630,#433826)"></div>
<div class="abs" style="left:1107px;top:2px;width:82px;height:35px;background:linear-gradient(#235058,#1b424a)"></div>
<div class="abs" style="left:1189px;top:2px;width:12px;height:35px;background:#5b5e65"></div>
<div class="abs" style="left:1191px;top:5px;width:9px;height:6px;background:#2c2e36"></div>
<div class="abs" style="left:1191px;top:13px;width:9px;height:6px;background:#2c2e36"></div>
<div class="abs" style="left:1191px;top:21px;width:9px;height:6px;background:#2c2e36"></div>
<div class="abs" style="left:1191px;top:29px;width:9px;height:6px;background:#2c2e36"></div>
<div class="abs" style="left:2px;top:2px;width:1279px;height:1px;background:rgba(255,255,255,0.13)"></div>
<div class="sep" style="left:36px;top:2px;height:35px"></div>
<div class="sep" style="left:63px;top:2px;height:35px"></div>
<div class="sep" style="left:959px;top:2px;height:35px"></div>
<div class="sep" style="left:1024px;top:2px;height:35px"></div>
<div class="sep" style="left:1107px;top:2px;height:35px"></div>
<div class="sep" style="left:1189px;top:2px;height:35px"></div>
<div class="sep" style="left:1201px;top:2px;height:35px"></div>
<div class="sep" style="left:1228px;top:2px;height:35px"></div>
<div class="sep" style="left:1255px;top:2px;height:35px"></div>
<div class="r2" style="left:2px;width:1279px"></div>
<div class="abs" style="left:2px;top:37px;width:1279px;height:1px;background:#101214"></div>
<div class="abs" style="left:2px;top:38px;width:1279px;height:1px;background:rgba(255,255,255,0.04)"></div>
<div class="abs" style="left:427px;top:38px;width:22px;height:23px;background:rgba(40,50,120,0.16)"></div>
<div class="abs" style="left:149px;top:38px;width:25px;height:23px;background:rgba(40,50,120,0.16)"></div>
<div class="abs" style="left:175px;top:38px;width:22px;height:23px;background:rgba(40,50,120,0.16)"></div>
<div class="abs" style="left:198px;top:38px;width:22px;height:23px;background:rgba(40,50,120,0.16)"></div>
<div class="abs" style="left:1055px;top:38px;width:30px;height:22px;background:#0e5b8c"></div>
<div class="abs" style="left:1148px;top:38px;width:30px;height:22px;background:#0e5b8c"></div>
<div class="sep" style="left:32px;top:38px;height:23px;background:#0c0d0f"></div>
<div class="sep" style="left:63px;top:38px;height:23px;background:#0c0d0f"></div>
<div class="sep" style="left:148px;top:38px;height:23px;background:#0c0d0f"></div>
<div class="sep" style="left:174px;top:38px;height:23px;background:#0c0d0f"></div>
<div class="sep" style="left:197px;top:38px;height:23px;background:#0c0d0f"></div>
<div class="sep" style="left:220px;top:38px;height:23px;background:#0c0d0f"></div>
<div class="sep" style="left:310px;top:38px;height:23px;background:#0c0d0f"></div>
<div class="sep" style="left:426px;top:38px;height:23px;background:#0c0d0f"></div>
<div class="sep" style="left:449px;top:38px;height:23px;background:#0c0d0f"></div>
<div class="sep" style="left:528px;top:38px;height:23px;background:#0c0d0f"></div>
<div class="sep" style="left:961px;top:38px;height:23px;background:#0c0d0f"></div>
<div class="sep" style="left:992px;top:38px;height:23px;background:#0c0d0f"></div>
<div class="sep" style="left:1023px;top:38px;height:23px;background:#0c0d0f"></div>
<div class="sep" style="left:1054px;top:38px;height:23px;background:#0c0d0f"></div>
<div class="sep" style="left:1085px;top:38px;height:23px;background:#0c0d0f"></div>
<div class="sep" style="left:1116px;top:38px;height:23px;background:#0c0d0f"></div>
<div class="sep" style="left:1147px;top:38px;height:23px;background:#0c0d0f"></div>
<div class="sep" style="left:1178px;top:38px;height:23px;background:#0c0d0f"></div>
<div class="abs" style="left:0;top:61px;width:1281px;height:1px;background:#0c0d0f"></div>
<div class="abs" style="left:11px;top:14px;width:16px;height:2px;background:#b4b8be"></div>
<div class="abs" style="left:11px;top:19px;width:16px;height:2px;background:#b4b8be"></div>
<div class="abs" style="left:11px;top:24px;width:16px;height:2px;background:#b4b8be"></div>
<svg class="abs" style="left:0;top:0" width="1281" height="62" viewBox="0 0 1281 62"><path d="M41.5 19.8 L44.3 16.8 L48.5 21.6 L58 12.2" fill="none" stroke="#b4b8be" stroke-width="1"/><rect x="41.5" y="27" width="17" height="1" fill="#b4b8be"/><circle cx="374" cy="18" r="4.8" fill="none" stroke="#8e9299" stroke-width="1.2"/><path d="M377.6 21.6 L383.5 27.3" stroke="#8e9299" stroke-width="1.3"/><rect x="10.5" y="42.5" width="13" height="13.5" fill="none" stroke="#a9adb4" stroke-width="1"/><rect x="13" y="45.0" width="1" height="1" fill="#a9adb4"/><rect x="15" y="45.0" width="6" height="1" fill="#a9adb4"/><rect x="13" y="48.0" width="1" height="1" fill="#a9adb4"/><rect x="15" y="48.0" width="6" height="1" fill="#a9adb4"/><rect x="13" y="51.0" width="1" height="1" fill="#a9adb4"/><rect x="15" y="51.0" width="6" height="1" fill="#a9adb4"/><rect x="41.5" y="42.5" width="6" height="6" fill="none" stroke="#a9adb4" stroke-width="1"/><rect x="50" y="42" width="1" height="1" fill="#a9adb4"/><rect x="50" y="45" width="1" height="1" fill="#a9adb4"/><rect x="50" y="48" width="1" height="1" fill="#a9adb4"/><rect x="50" y="51" width="1" height="1" fill="#a9adb4"/><rect x="50" y="54" width="1" height="1" fill="#a9adb4"/><rect x="53" y="42" width="1" height="1" fill="#a9adb4"/><rect x="53" y="45" width="1" height="1" fill="#a9adb4"/><rect x="53" y="48" width="1" height="1" fill="#a9adb4"/><rect x="53" y="51" width="1" height="1" fill="#a9adb4"/><rect x="53" y="54" width="1" height="1" fill="#a9adb4"/><rect x="41" y="51" width="1" height="1" fill="#a9adb4"/><rect x="41" y="54" width="1" height="1" fill="#a9adb4"/><rect x="44" y="51" width="1" height="1" fill="#a9adb4"/><rect x="44" y="54" width="1" height="1" fill="#a9adb4"/><rect x="47" y="51" width="1" height="1" fill="#a9adb4"/><rect x="47" y="54" width="1" height="1" fill="#a9adb4"/><path d="M136.5 46 H143.5 L140.0 52 Z" fill="#9da1a8"/><path d="M298 46 H305 L301.5 52 Z" fill="#9da1a8"/><path d="M407.5 46 H414.5 L411.0 52 Z" fill="#9da1a8"/><path d="M510 46 H517 L513.5 52 Z" fill="#9da1a8"/><path d="M1263 46 H1270 L1266.5 52 Z" fill="#9da1a8"/><rect x="319" y="43" width="3" height="2" fill="#9fa4ab"/><rect x="322" y="42" width="1.3" height="4" fill="#9fa4ab"/><rect x="325" y="43" width="8" height="2" fill="#9fa4ab"/><rect x="319" y="48" width="8" height="2" fill="#9fa4ab"/><rect x="329" y="46.5" width="1.3" height="4.5" fill="#9fa4ab"/><rect x="330" y="48" width="3" height="2" fill="#9fa4ab"/><rect x="319" y="53" width="6" height="2" fill="#9fa4ab"/><rect x="325" y="52" width="1.3" height="4" fill="#9fa4ab"/><rect x="328" y="53" width="5" height="2" fill="#9fa4ab"/><rect x="459.5" y="47" width="1" height="4" fill="#aeb3ba"/><rect x="458.5" y="51.5" width="3" height="2.5" fill="none" stroke="#aeb3ba" stroke-width="1"/><rect x="464.5" y="43" width="1" height="13" fill="#aeb3ba"/><rect x="463.5" y="47.5" width="3" height="5" fill="#1d1f24" stroke="#aeb3ba" stroke-width="1"/><rect x="469.5" y="42" width="1" height="3" fill="#aeb3ba"/><rect x="468.5" y="45.5" width="3" height="6.5" fill="none" stroke="#aeb3ba" stroke-width="1"/><path d="M983.5 42 V55.5 H970" fill="none" stroke="#a9adb4" stroke-width="1"/><path d="M970 53.2 C976 53.4 981 50 981.6 42 C978 45.8 974 49.8 970 53.2 Z" fill="#a9adb4" stroke="#a9adb4" stroke-width="0.6"/><text x="1000.3" y="53.8" style="font-family:&quot;Liberation Serif&quot;,serif;font-size:14.5px" fill="#a9adb4">T</text><text x="1009.6" y="54" style="font-family:&quot;Liberation Serif&quot;,serif;font-size:8.5px" fill="#a9adb4">T</text><rect x="1036" y="42" width="1" height="14" fill="#b8bcc2"/><rect x="1041" y="42" width="1" height="14" fill="#b8bcc2"/><rect x="1032" y="46" width="14" height="1" fill="#b8bcc2"/><rect x="1032" y="51" width="14" height="1" fill="#b8bcc2"/><rect x="1065" y="42" width="1" height="9.5" fill="#e6f3fb"/><rect x="1069" y="42" width="1" height="9.5" fill="#e6f3fb"/><rect x="1063" y="44" width="9" height="1" fill="#e6f3fb"/><rect x="1063" y="48" width="9" height="1" fill="#e6f3fb"/><path d="M1068 54.6 L1076.2 46.8" stroke="#e4f4fc" stroke-width="2.8" stroke-linecap="round"/><path d="M1069.5 53.2 L1074.5 48.4" stroke="#3a7eaa" stroke-width="0.8"/><path d="M1066.8 55.8 L1068.6 54" stroke="#8fd0f0" stroke-width="1.6"/><path d="M1098 42.7 H1107.1 V51.8" fill="none" stroke="#b4b8be" stroke-width="1.6"/><path d="M1096 45.9 H1104.2 V53.8" fill="none" stroke="#b4b8be" stroke-width="1.6"/><rect x="1094.5" y="48.6" width="7" height="7" fill="none" stroke="#b4b8be" stroke-width="1.2"/><rect x="1131" y="42.5" width="1" height="13.5" fill="#c4c8ce"/><rect x="1129.5" y="46.5" width="4" height="5" fill="#202227" stroke="#c4c8ce" stroke-width="1"/><rect x="1132" y="54" width="2" height="1" fill="#c4c8ce"/><rect x="1135" y="53.5" width="5" height="1" fill="#9a9ea4"/><path d="M1156.5 48.8 L1161.6 44.5 H1169.8 V53.6 H1161.6 Z" fill="none" stroke="#d8f3ff" stroke-width="1.4"/><circle cx="1193.8" cy="48.7" r="4.3" fill="none" stroke="#a1a5ab" stroke-width="1.6"/><path d="M1198.42 50.61 L1200.27 51.38" stroke="#a1a5ab" stroke-width="1.5"/><path d="M1195.71 53.32 L1196.48 55.17" stroke="#a1a5ab" stroke-width="1.5"/><path d="M1191.89 53.32 L1191.12 55.17" stroke="#a1a5ab" stroke-width="1.5"/><path d="M1189.18 50.61 L1187.33 51.38" stroke="#a1a5ab" stroke-width="1.5"/><path d="M1189.18 46.79 L1187.33 46.02" stroke="#a1a5ab" stroke-width="1.5"/><path d="M1191.89 44.08 L1191.12 42.23" stroke="#a1a5ab" stroke-width="1.5"/><path d="M1195.71 44.08 L1196.48 42.23" stroke="#a1a5ab" stroke-width="1.5"/><path d="M1198.42 46.79 L1200.27 46.02" stroke="#a1a5ab" stroke-width="1.5"/><path d="M968 8.5 H976.3 L972.15 16 Z" fill="#f03a48"/><path d="M1090 12.2 Q1097.5 12.5 1098.5 20.5 L1101 20.5 L1096.5 27.5 L1092.5 20 L1095 20.2 Q1094.5 15.5 1090 12.2 Z" fill="#e39a22"/><path d="M1172.5 27.6 Q1179.8 24.5 1179.5 19.2 L1182.6 19.2 L1178.5 12.6 L1173.6 19.4 L1176.6 19.4 Q1177 24 1172.5 27.6 Z" fill="#22b0c4"/><path d="M1216 13.8 V18.8 H1221 Z" fill="#b4b8be"/><path d="M1214 26 V21 H1209 Z" fill="#b4b8be"/><path d="M1218 16.8 L1221.5 13.3" stroke="#b4b8be" stroke-width="1.2"/><path d="M1212 23 L1208.8 26.2" stroke="#b4b8be" stroke-width="1.2"/><path d="M1242 15.3 H1236.5 V25.5 H1246.8 V20" fill="none" stroke="#b4b8be" stroke-width="1.2"/><path d="M1240.5 21 L1247.5 14" stroke="#b4b8be" stroke-width="1.2"/><path d="M1243.5 14 H1248 V18.5" fill="none" stroke="#b4b8be" stroke-width="1.2"/><path d="M1265 16 L1273 24 M1273 16 L1265 24" stroke="#b4b8be" stroke-width="1.2"/></svg>
<div class="t" style="left:70px;top:11px;font-size:15px;line-height:17px;color:#f4f5f6;-webkit-text-stroke:0.3px #f4f5f6">Aston Martin Lagonda Global Holdings PLC</div>
<div class="t" style="left:69px;top:42px;font-size:12px;line-height:14px;color:#eceef0;-webkit-text-stroke:0.35px #eceef0">30 minutes</div>
<div class="t" style="left:226px;top:42px;font-size:12px;line-height:14px;color:#eceef0;-webkit-text-stroke:0.35px #eceef0">14 Days</div>
<div class="t" style="left:341px;top:42px;font-size:12px;line-height:14px;color:#eceef0;-webkit-text-stroke:0.35px #eceef0">Templates</div>
<div class="t" style="left:480px;top:42px;font-size:12px;line-height:14px;color:#eceef0;-webkit-text-stroke:0.35px #eceef0">Mid</div>
<div class="t" style="left:1208px;top:42px;font-size:12px;line-height:14px;color:#eceef0;-webkit-text-stroke:0.35px #eceef0">Settings</div>
<div style="position:absolute;color:#f0ea2a;font-size:10px;font-weight:bold;line-height:12px;top:44px;white-space:nowrap;-webkit-text-stroke:0.35px #f0ea2a;left:152px">30m</div>
<div style="position:absolute;color:#f0ea2a;font-size:10px;font-weight:bold;line-height:12px;top:44px;white-space:nowrap;-webkit-text-stroke:0.35px #f0ea2a;left:181px">1h</div>
<div style="position:absolute;color:#f0ea2a;font-size:10px;font-weight:bold;line-height:12px;top:44px;white-space:nowrap;-webkit-text-stroke:0.35px #f0ea2a;left:203px">1D</div>
<div style="position:absolute;color:#f0ea2a;font-size:10px;font-weight:bold;line-height:12px;top:44px;white-space:nowrap;-webkit-text-stroke:0.35px #f0ea2a;left:433px">D</div>
<div class="abs" style="left:980px;top:6px;font-size:11.5px;font-weight:bold;line-height:13px;color:#dc3446;white-space:nowrap">12.91%</div>
<div class="abs" style="left:991px;top:20px;font-size:11.5px;font-weight:bold;line-height:13px;color:#dc3446;white-space:nowrap">176.6</div>
<div class="abs" style="left:1033px;top:13px;font-size:12px;font-weight:bold;line-height:14px;color:#bdb3a3;white-space:nowrap">1,186.400</div>
<div class="abs" style="left:1116px;top:13px;font-size:12px;font-weight:bold;line-height:14px;color:#a9c2c6;white-space:nowrap">1,196.200</div>
</div>
<div id="bot"><div class="abs" style="left:61px;top:0;width:60px;height:2px;background:#0e5a8c"></div><div class="abs" style="left:1221px;top:0;width:60px;height:2px;background:#0e5a8c"></div><div class="abs" style="left:31px;top:0;width:1px;height:2px;background:#101214"></div><div class="abs" style="left:61px;top:0;width:1px;height:2px;background:#101214"></div><div class="abs" style="left:91px;top:0;width:1px;height:2px;background:#101214"></div><div class="abs" style="left:121px;top:0;width:1px;height:2px;background:#101214"></div><div class="abs" style="left:376px;top:0;width:1px;height:2px;background:#101214"></div><div class="abs" style="left:476px;top:0;width:1px;height:2px;background:#101214"></div><div class="abs" style="left:576px;top:0;width:1px;height:2px;background:#101214"></div><div class="abs" style="left:676px;top:0;width:1px;height:2px;background:#101214"></div><div class="abs" style="left:776px;top:0;width:1px;height:2px;background:#101214"></div><div class="abs" style="left:876px;top:0;width:1px;height:2px;background:#101214"></div><div class="abs" style="left:1131px;top:0;width:1px;height:2px;background:#101214"></div><div class="abs" style="left:1161px;top:0;width:1px;height:2px;background:#101214"></div><div class="abs" style="left:1191px;top:0;width:1px;height:2px;background:#101214"></div><div class="abs" style="left:1221px;top:0;width:1px;height:2px;background:#101214"></div><div class="abs" style="left:1251px;top:0;width:1px;height:2px;background:#101214"></div></div>
</body></html>
